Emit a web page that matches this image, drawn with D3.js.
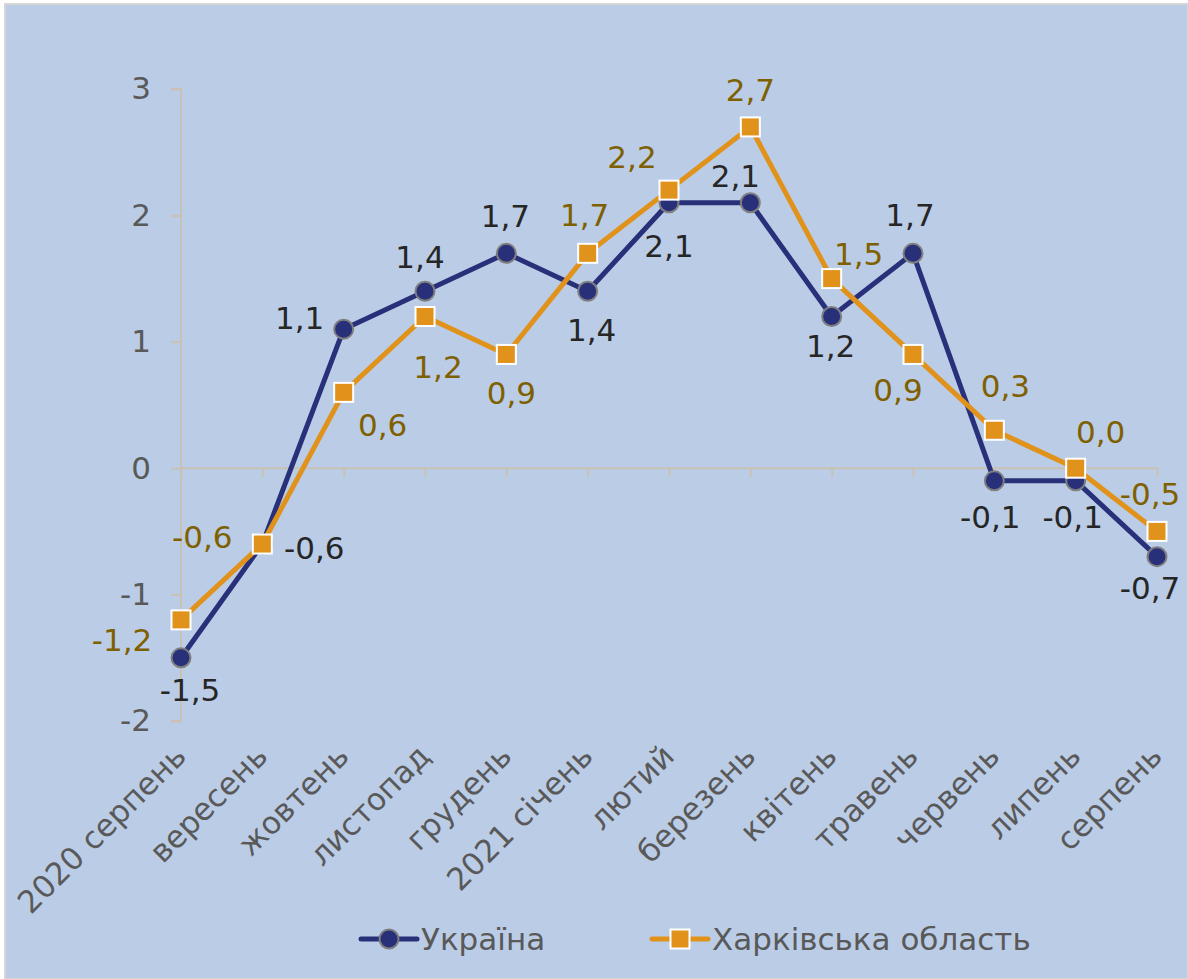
<!DOCTYPE html>
<html>
<head>
<meta charset="utf-8">
<script src="https://cdn.jsdelivr.net/npm/d3@7"></script>
<style>
  body { margin: 0; background: #fff; }
  text { font-family: "DejaVu Sans", Verdana, sans-serif; }
</style>
</head>
<body>
<script>
var width = 1188;
var height = 979;

// data
var months = ["2020 серпень", "вересень", "жовтень", "листопад", "грудень", "2021 січень",
    "лютий", "березень", "квітень", "травень", "червень", "липень", "серпень"];
var ukraine = [-1.5, -0.6, 1.1, 1.4, 1.7, 1.4, 2.1, 2.1, 1.2, 1.7, -0.1, -0.1, -0.7];
var kharkiv = [-1.2, -0.6, 0.6, 1.2, 0.9, 1.7, 2.2, 2.7, 1.5, 0.9, 0.3, 0.0, -0.5];
var yTicks = [-2, -1, 0, 1, 2, 3];
var seriesNames = ["Україна", "Харківська область"];

// label centre offsets from each point, [dx, dy]
var ukrOff = [[9, 32], [52, 4], [-44, -11], [-5, -34], [-1, -37], [4, 39], [0, 43],
    [-15, -27], [-1, 29], [-3, -38], [-4, 36], [-3, 36], [-7, 31]];
var khaOff = [[-59, 20], [-60, -7], [39, 33], [13, 50], [5, 39], [-3, -38], [-37, -33],
    [0, -37], [27, -25], [-15, 36], [11, -44], [25, -36], [-7, -37]];

var navy = "#28307a";
var orange = "#e0921b";
var fontSize = 31;

var svg = d3.select("body").append("svg")
    .attr("width", width)
    .attr("height", height);

svg.append("rect")
    .attr("x", 5).attr("y", 4)
    .attr("width", width - 5).attr("height", height - 4)
    .attr("fill", "#bbcce6")
    .attr("stroke", "#d6d6d6")
    .attr("stroke-width", 2);

var x = d3.scalePoint()
    .domain(d3.range(months.length))
    .range([181, 1157]);

var y = d3.scaleLinear()
    .domain([-2, 3])
    .range([721, 89]);

var axisColor = "#c9c2b4";

// y axis
var yAxis = svg.append("g")
    .attr("transform", "translate(181,0)")
    .call(d3.axisLeft(y).tickValues(yTicks).tickSize(10).tickPadding(20)
        .tickFormat(function (d) { return d; }));
yAxis.select(".domain").attr("stroke", axisColor).attr("stroke-width", 2)
    .attr("d", "M-10," + y(3) + "H0V" + y(-2) + "H-10");
yAxis.selectAll(".tick line").attr("stroke", axisColor).attr("stroke-width", 2);
yAxis.selectAll(".tick text")
    .attr("fill", "#595959")
    .attr("font-size", fontSize)
    .attr("font-family", "DejaVu Sans, sans-serif");

// x axis at zero
var xAxis = svg.append("g")
    .attr("transform", "translate(0," + y(0) + ")")
    .call(d3.axisBottom(x).tickSize(9).tickFormat(""));
xAxis.select(".domain").attr("stroke", axisColor).attr("stroke-width", 2).attr("d", "M181,0H1157");
xAxis.selectAll(".tick line").attr("stroke", axisColor).attr("stroke-width", 2);

// category labels, rotated
svg.append("g").selectAll("text")
    .data(months)
    .enter()
    .append("text")
    .attr("transform", function (d, i) {
        return "translate(" + (x(i) + 7) + ",758) rotate(-45)";
    })
    .attr("text-anchor", "end")
    .attr("fill", "#595959")
    .attr("font-size", fontSize)
    .text(function (d) { return d; });

var line = d3.line()
    .x(function (d, i) { return x(i); })
    .y(function (d) { return y(d); });

svg.append("path")
    .datum(ukraine)
    .attr("d", line)
    .attr("fill", "none")
    .attr("stroke", navy)
    .attr("stroke-width", 5)
    .attr("stroke-linejoin", "round");

svg.append("path")
    .datum(kharkiv)
    .attr("d", line)
    .attr("fill", "none")
    .attr("stroke", orange)
    .attr("stroke-width", 5)
    .attr("stroke-linejoin", "round");

svg.append("g").selectAll("circle")
    .data(ukraine)
    .enter()
    .append("circle")
    .attr("cx", function (d, i) { return x(i); })
    .attr("cy", function (d) { return y(d); })
    .attr("r", 9.5)
    .attr("fill", navy)
    .attr("stroke", "#7f7f7f")
    .attr("stroke-width", 2);

svg.append("g").selectAll("rect")
    .data(kharkiv)
    .enter()
    .append("rect")
    .attr("x", function (d, i) { return x(i) - 9.5; })
    .attr("y", function (d) { return y(d) - 9.5; })
    .attr("width", 19)
    .attr("height", 19)
    .attr("fill", orange)
    .attr("stroke", "#fff")
    .attr("stroke-width", 2);

function fmt(v) {
    return v.toFixed(1).replace(".", ",");
}

function addLabels(values, off, color) {
    svg.append("g").selectAll("text")
        .data(values)
        .enter()
        .append("text")
        .attr("x", function (d, i) { return x(i) + off[i][0]; })
        .attr("y", function (d) { return y(d); })
        .attr("dy", function (d, i) { return off[i][1] + 11; })
        .attr("text-anchor", "middle")
        .attr("fill", color)
        .attr("font-size", fontSize)
        .text(function (d) { return fmt(d); });
}

addLabels(ukraine, ukrOff, "#262626");
addLabels(kharkiv, khaOff, "#7f6000");

// legend
var legend = svg.append("g").attr("transform", "translate(0,939)");
var legendX = [361, 652];
legendX.forEach(function (lx, i) {
    var g = legend.append("g").attr("transform", "translate(" + lx + ",0)");
    g.append("line")
        .attr("x1", 0).attr("x2", 56)
        .attr("stroke", i === 0 ? navy : orange)
        .attr("stroke-width", 5)
        .attr("stroke-linecap", "round");
    if (i === 0) {
        g.append("circle").attr("cx", 28).attr("r", 9.5)
            .attr("fill", navy).attr("stroke", "#7f7f7f").attr("stroke-width", 2);
    } else {
        g.append("rect").attr("x", 18.5).attr("y", -9.5).attr("width", 19).attr("height", 19)
            .attr("fill", orange).attr("stroke", "#fff").attr("stroke-width", 2);
    }
    g.append("text")
        .attr("x", 60)
        .attr("dy", 11)
        .attr("fill", "#595959")
        .attr("font-size", fontSize)
        .text(seriesNames[i]);
});
</script>
</body>
</html>
